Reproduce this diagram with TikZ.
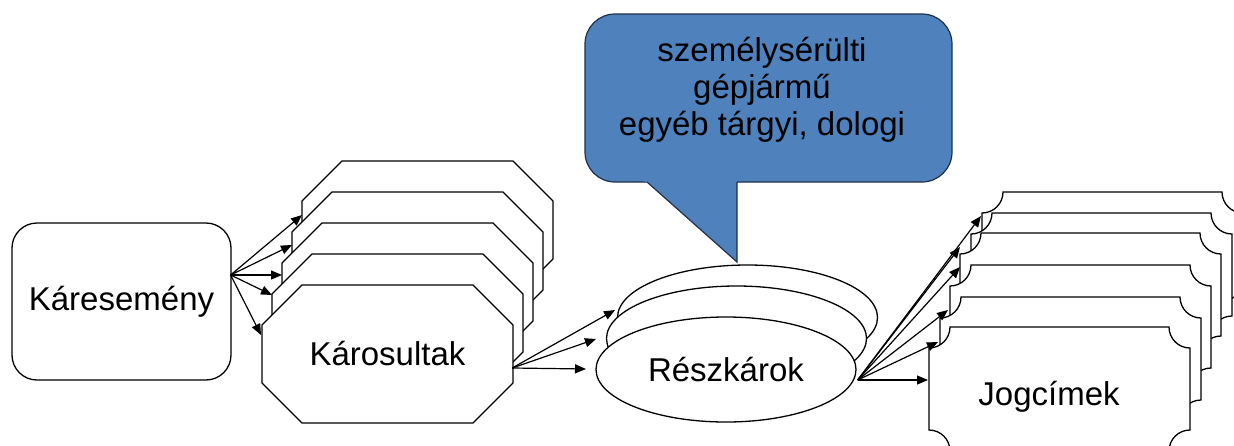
\documentclass[tikz,border=0pt]{standalone}
\usepackage{fontspec}
\setmainfont{Liberation Sans}
\usetikzlibrary{arrows.meta,shapes.geometric,calc}
\definecolor{callblue}{HTML}{4F81BD}
\definecolor{calledge}{HTML}{1F2F45}
% octagon outline: left, top (w=251, h=138, cut=40)
\newcommand\octpath[2]{%
  \draw[shapeline] ({#1+40},{#2}) -- ({#1+211},{#2}) -- ({#1+251},{#2+40}) -- ({#1+251},{#2+98}) -- ({#1+211},{#2+138}) -- ({#1+40},{#2+138}) -- ({#1},{#2+98}) -- ({#1},{#2+40}) -- cycle;}
% plaque outline: left, top (w=261, h=124, r=21)
\newcommand\plqpath[2]{%
  \draw[shapeline] ({#1+21},{#2}) -- ({#1+240},{#2})
    .. controls ({#1+240},{#2+11.6}) and ({#1+249.4},{#2+21}) .. ({#1+261},{#2+21})
    -- ({#1+261},{#2+103})
    .. controls ({#1+249.4},{#2+103}) and ({#1+240},{#2+112.4}) .. ({#1+240},{#2+124})
    -- ({#1+21},{#2+124})
    .. controls ({#1+21},{#2+112.4}) and ({#1+11.6},{#2+103}) .. ({#1},{#2+103})
    -- ({#1},{#2+21})
    .. controls ({#1+11.6},{#2+21}) and ({#1+21},{#2+11.6}) .. ({#1+21},{#2}) -- cycle;}
\begin{document}
\begin{tikzpicture}[x=1pt,y=-1pt,
  shapeline/.style={draw=black,fill=white,line width=1.3pt,line join=miter},
  lbl/.style={font=\fontsize{33}{37}\selectfont,inner sep=0pt},
  rbox/.style={draw=black,fill=white,line width=1.3pt,rounded corners=25pt,
    minimum width=219pt,minimum height=157pt,inner sep=0pt,font=\fontsize{33}{37}\selectfont},
  octbox/.style={minimum width=251pt,minimum height=138pt,inner sep=0pt,font=\fontsize{33}{37}\selectfont},
  ell/.style={ellipse,draw=black,fill=white,line width=1.3pt,minimum width=260pt,
    minimum height=105pt,inner sep=0pt,font=\fontsize{33}{37}\selectfont},
  callbody/.style={draw=calledge,fill=callblue,line width=1.2pt,rounded corners=30pt,
    minimum width=367pt,minimum height=168pt,inner sep=0pt},
  arr/.style={-{Triangle[length=11pt,width=9pt]},line width=1.2pt,draw=black}]
\useasboundingbox (0,0) rectangle (1234,445);
\clip (0,0) rectangle (1234,445);

% Kareseny
\node[rbox] (kar) at (121.5,301.5) {Káresemény};

% Karosultak stack
\octpath{302}{161}
\octpath{292}{192}
\octpath{282}{223}
\octpath{272}{254}
\octpath{262}{285}
\node[octbox] (k1) at (387.5,354) {Károsultak};

% Callout
\node[callbody] (cbox) at (768.5,98) {};
\coordinate (ctip) at (737,262);
\fill[callblue] (640,180) -- (647,182) -- (ctip) -- (737,180) -- cycle;
\draw[calledge,line width=1.2pt,line join=miter] (647,182) -- (ctip) -- (737,182);
\node[lbl,align=center] (ctext) at (762,90) {személysérülti\\gépjármű\\egyéb tárgyi, dologi};

% Reszkarok stack
\node[ell] (r3) at (747.5,317.5) {};
\node[ell] (r2) at (736.5,338.5) {};
\node[ell] (r1) at (726,369.5) {Részkárok};

% Jogcimek stack
\plqpath{982}{192}
\plqpath{971}{213}
\plqpath{960}{233}
\plqpath{950}{265}
\plqpath{940}{297}
\plqpath{929}{327}
\node[lbl] (j1) at (1049,397) {Jogcímek};

% connector ends
\coordinate (karout) at ($(kar.east)+(-1,-26.5)$);
\coordinate (tk1) at (261,335);
\coordinate (tk2) at (272,295);
\coordinate (tk3) at (282,275);
\coordinate (tk4) at (292,245);
\coordinate (tk5) at (302,215);
\coordinate (kout) at ($(k1.east)+(-1,14)$);
\coordinate (tr1) at (586,369);
\coordinate (tr2) at (596,339);
\coordinate (tr3) at (615,310);
\coordinate (rout) at ($(r1.east)+(1,10.5)$);
\coordinate (tj1) at (928,380);
\coordinate (tj2) at (938,342);
\coordinate (tj3) at (948,310);
\coordinate (tj4) at (960,267);
\coordinate (tj5) at (960,247);
\coordinate (tj6) at (981,216);

\foreach \t in {tk1,tk2,tk3,tk4,tk5} \draw[arr] (karout) -- (\t);
\foreach \t in {tr1,tr2,tr3} \draw[arr] (kout) -- (\t);
\foreach \t in {tj1,tj2,tj3,tj4,tj5,tj6} \draw[arr] (rout) -- (\t);
\end{tikzpicture}
\end{document}
